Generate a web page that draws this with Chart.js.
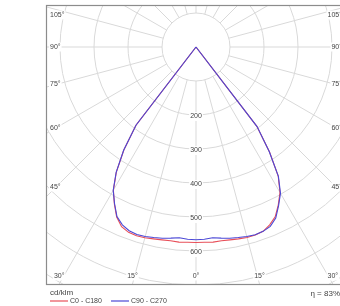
<!DOCTYPE html>
<html><head><meta charset="utf-8">
<script src="https://cdn.jsdelivr.net/npm/chart.js@4/dist/chart.umd.min.js"></script>
<style>html,body{margin:0;padding:0;background:#fff;overflow:hidden;width:340px;height:306px}canvas{display:block}</style>
</head><body>
<canvas id="c" width="360" height="306"></canvas>
<script>
// gamma angles (deg from nadir) and luminous intensities (cd/klm)
const gammaAngles = [0,2.5,5,7.5,10,12.5,15,17.5,20,22.5,25,27.5,30,32.5,35,37.5,40,90,180];
const c0Values   = [575,575,576,575,576,578,580,580,577,566,551,524,494,450,377,294,0,0,0];
const c180Values = [575,575,576,575,576,578,581,582,580,572,552,520,486,436,370,290,0,0,0];
const c90Values  = [567,566,563,567,571,574,577,579,577,571,555,526,497,451,376,295,0,0,0];
const c270Values = [567,566,563,567,571,574,577,578,575,566,550,519,487,437,371,290,0,0,0];
const ringValues = [100,200,300,400,500,600,700,800,900,1000];
const ringTickLabels = ['200','300','400','500','600'];
const spokeAngles = [0,15,30,45,60,75,90,105,120,135,150,165,180,195,210,225,240,255,270,285,300,315,330,345];
const angleTickLabels = [0,15,30,45,60,75,90,105];
const seriesNames = ['C0 - C180','C90 - C270'];
const unitLabel = 'cd/klm';
const efficiencyLabel = 'η = 83%';

const PX = 0.34; // px per cd/klm
const FRAME = {left:46, top:5, right:346, bottom:284};
const CENTER = {x:196, y:47};

function polar(rightVals, leftVals){
  const pts = [];
  for (let i = gammaAngles.length-1; i >= 0; i--) {
    const g = gammaAngles[i]*Math.PI/180;
    pts.push({x: rightVals[i]*Math.sin(g), y: -rightVals[i]*Math.cos(g)});
  }
  for (let i = 0; i < gammaAngles.length; i++) {
    const g = gammaAngles[i]*Math.PI/180;
    pts.push({x: -leftVals[i]*Math.sin(g), y: -leftVals[i]*Math.cos(g)});
  }
  return pts;
}

const FONT = '7px "Liberation Sans", Arial, sans-serif';
const TXT = '#444';

const gridPlugin = {
  id: 'polarGrid',
  beforeDatasetsDraw(chart){
    const {ctx, chartArea: a, scales:{x, y}} = chart;
    const cx = x.getPixelForValue(0), cy = y.getPixelForValue(0);
    ctx.save();
    ctx.beginPath(); ctx.rect(a.left, a.top, a.right-a.left, a.bottom-a.top); ctx.clip();
    ctx.strokeStyle = '#d9d9d9'; ctx.lineWidth = 1;
    ringValues.forEach(r => {
      const rp = x.getPixelForValue(r) - cx;
      ctx.beginPath(); ctx.arc(cx, cy, rp, 0, Math.PI*2); ctx.stroke();
    });
    const r0 = x.getPixelForValue(ringValues[0]) - cx;
    const r1 = x.getPixelForValue(ringValues[ringValues.length-1]) - cx;
    spokeAngles.forEach(s => {
      const t = s*Math.PI/180;
      const dx = Math.sin(t), dy = Math.cos(t);
      ctx.beginPath();
      ctx.moveTo(cx + dx*r0, cy + dy*r0);
      ctx.lineTo(cx + dx*r1, cy + dy*r1);
      ctx.stroke();
    });
    ctx.font = FONT; ctx.textBaseline = 'middle';
    function label(text, px, py, align){
      const w = ctx.measureText(text).width;
      let lx = align==='left' ? px : align==='right' ? px - w : px - w/2;
      ctx.fillStyle = '#fff';
      ctx.fillRect(lx-1, py-4.5, w+2, 9);
      ctx.fillStyle = TXT; ctx.textAlign = 'left';
      ctx.fillText(text, lx, py);
    }
    ringTickLabels.forEach(t => {
      const v = +t;
      label(t, cx, y.getPixelForValue(-v)+1.5, 'center');
    });
    angleTickLabels.forEach(deg => {
      [-1, 1].forEach(side => {
        if (deg === 0 && side === 1) return;
        const t = deg*Math.PI/180;
        const sx = Math.sin(t), cyy = Math.cos(t);
        const edgeX = side < 0 ? a.left : a.right;
        const tx = sx > 1e-9 ? Math.abs(cx - edgeX)/sx : Infinity;
        const ty = cyy > 1e-9 ? (a.bottom - cy)/cyy : Infinity;
        const text = deg + '°';
        if (tx < ty) {
          const tt = (Math.abs(cx - edgeX) - 10)/sx;
          let ly = cy + cyy*tt;
          ly = Math.max(ly, a.top + 10);
          if (side < 0) label(text, a.left + 4, ly, 'left');
          else label(text, a.right - 4, ly, 'right');
        } else {
          let lx = cx + side*sx*ty;
          label(text, lx, a.bottom - 8, 'center');
        }
      });
    });
    ctx.restore();
  },
  afterDraw(chart){
    const {ctx, chartArea: a} = chart;
    ctx.save();
    ctx.strokeStyle = '#8c8c8c'; ctx.lineWidth = 1.2;
    ctx.strokeRect(a.left+0.5, a.top+0.5, a.right-a.left, a.bottom-a.top);
    ctx.fillStyle = TXT; ctx.textBaseline = 'middle'; ctx.textAlign = 'left';
    ctx.font = '8px "Liberation Sans", Arial, sans-serif';
    ctx.fillText(unitLabel, a.left + 4, 293);
    ctx.textAlign = 'right';
    ctx.fillText(efficiencyLabel, 340, 294);
    ctx.font = FONT; ctx.textAlign = 'left';
    const ds = chart.data.datasets;
    const items = [{x:50, tx:70}, {x:111, tx:131}];
    ds.forEach((d, i) => {
      ctx.strokeStyle = d.borderColor; ctx.lineWidth = 1.2;
      ctx.beginPath(); ctx.moveTo(items[i].x, 301); ctx.lineTo(items[i].x+18, 301); ctx.stroke();
      ctx.fillStyle = TXT;
      ctx.fillText(d.label, items[i].tx, 301);
    });
    ctx.restore();
  }
};

const W = 360, H = 306;
new Chart(document.getElementById('c'), {
  type: 'scatter',
  data: {
    datasets: [
      {label: seriesNames[0], order: 2, data: polar(c0Values, c180Values), showLine: true, borderColor: '#e8505a', borderWidth: 1.1, pointRadius: 0, tension: 0, fill: false},
      {label: seriesNames[1], order: 1, data: polar(c90Values, c270Values), showLine: true, borderColor: '#4b48d6', borderWidth: 1.1, pointRadius: 0, tension: 0, fill: false}
    ]
  },
  options: {
    responsive: false, animation: false, events: [],
    layout: {padding: {left: FRAME.left, top: FRAME.top, right: W - FRAME.right, bottom: H - FRAME.bottom}},
    scales: {
      x: {type: 'linear', display: false, min: -(CENTER.x - FRAME.left)/PX, max: (FRAME.right - CENTER.x)/PX},
      y: {type: 'linear', display: false, min: -(FRAME.bottom - CENTER.y)/PX, max: (CENTER.y - FRAME.top)/PX}
    },
    plugins: {legend: {display: false}, tooltip: {enabled: false}}
  },
  plugins: [gridPlugin]
});
</script>
</body></html>
